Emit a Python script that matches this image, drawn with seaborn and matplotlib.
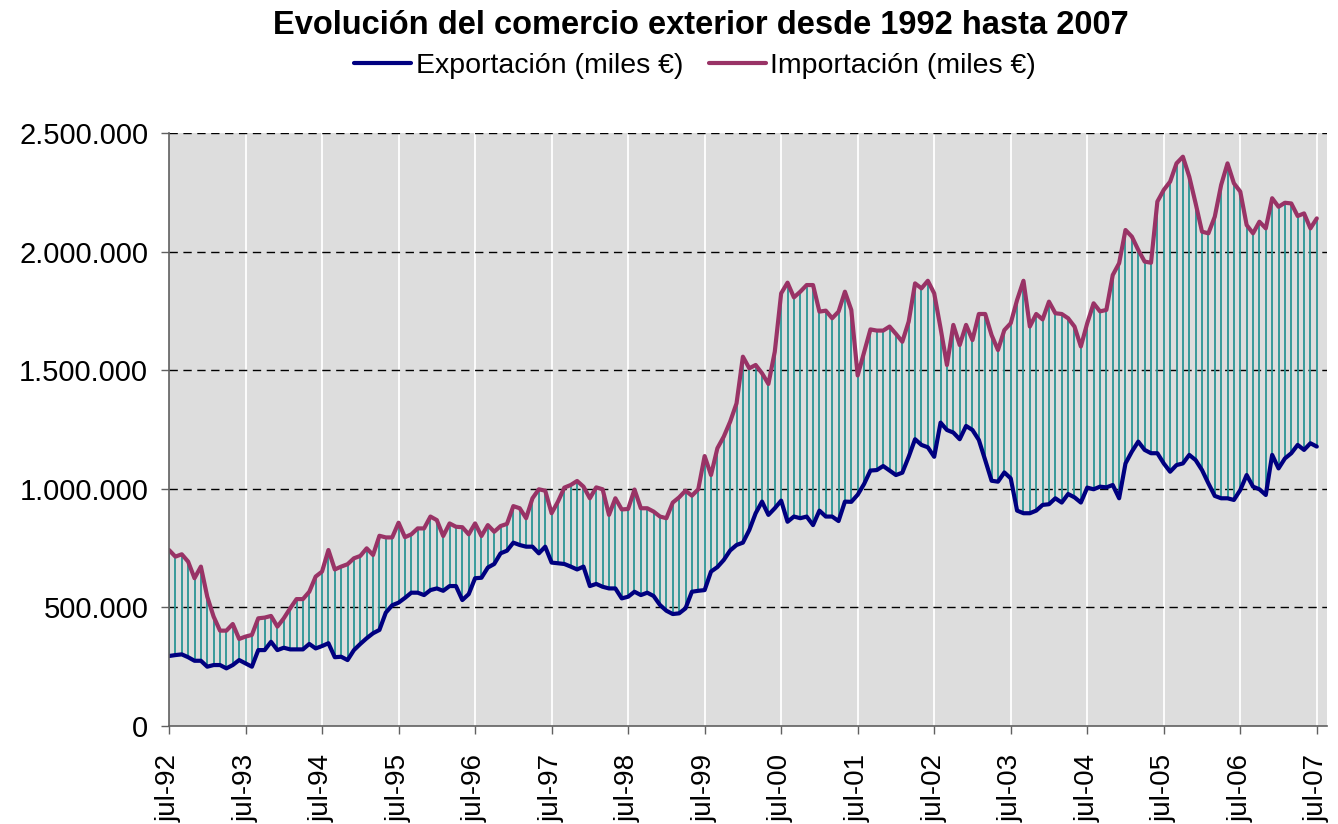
import numpy as np
import pandas as pd
import matplotlib
matplotlib.use("Agg")
import matplotlib.pyplot as plt
from matplotlib.ticker import FuncFormatter, MultipleLocator
import seaborn as sns

# ---------------- data (millions of "miles €"), monthly jul-92 .. jul-07 ----------------
importacion = [
    0.742, 0.714, 0.724, 0.693, 0.623, 0.672, 0.545, 0.461, 0.402, 0.402,
    0.430, 0.367, 0.377, 0.384, 0.454, 0.457, 0.464, 0.419, 0.454, 0.496,
    0.535, 0.535, 0.566, 0.630, 0.651, 0.742, 0.660, 0.672, 0.682, 0.707,
    0.717, 0.749, 0.721, 0.802, 0.795, 0.795, 0.857, 0.796, 0.808, 0.833,
    0.833, 0.883, 0.868, 0.801, 0.854, 0.840, 0.838, 0.808, 0.854, 0.801,
    0.847, 0.819, 0.843, 0.852, 0.927, 0.918, 0.876, 0.960, 0.998, 0.992,
    0.897, 0.946, 1.005, 1.016, 1.033, 1.009, 0.960, 1.006, 0.998, 0.890,
    0.960, 0.913, 0.915, 0.997, 0.918, 0.918, 0.904, 0.883, 0.876, 0.942,
    0.964, 0.992, 0.971, 0.998, 1.138, 1.058, 1.171, 1.220, 1.283, 1.360,
    1.557, 1.508, 1.522, 1.487, 1.442, 1.578, 1.824, 1.869, 1.807, 1.831,
    1.859, 1.859, 1.747, 1.751, 1.719, 1.747, 1.831, 1.754, 1.478, 1.575,
    1.672, 1.667, 1.667, 1.684, 1.653, 1.620, 1.705, 1.866, 1.845, 1.877,
    1.824, 1.677, 1.522, 1.691, 1.606, 1.691, 1.627, 1.737, 1.737, 1.648,
    1.585, 1.669, 1.698, 1.796, 1.877, 1.684, 1.737, 1.714, 1.789, 1.740,
    1.737, 1.719, 1.684, 1.600, 1.698, 1.782, 1.748, 1.754, 1.901, 1.951,
    2.091, 2.063, 2.007, 1.958, 1.953, 2.211, 2.260, 2.295, 2.372, 2.400,
    2.316, 2.203, 2.084, 2.077, 2.147, 2.281, 2.372, 2.288, 2.253, 2.112,
    2.077, 2.126, 2.098, 2.225, 2.189, 2.206, 2.203, 2.150, 2.161, 2.098,
    2.140,
]
exportacion = [
    0.295, 0.299, 0.302, 0.290, 0.275, 0.275, 0.250, 0.257, 0.257, 0.243,
    0.257, 0.278, 0.264, 0.250, 0.320, 0.320, 0.355, 0.320, 0.330, 0.323,
    0.323, 0.323, 0.346, 0.327, 0.337, 0.349, 0.290, 0.292, 0.278, 0.320,
    0.346, 0.370, 0.391, 0.405, 0.478, 0.509, 0.520, 0.540, 0.562, 0.562,
    0.552, 0.573, 0.580, 0.570, 0.590, 0.590, 0.531, 0.556, 0.623, 0.625,
    0.668, 0.683, 0.728, 0.739, 0.773, 0.763, 0.756, 0.756, 0.728, 0.756,
    0.689, 0.686, 0.683, 0.672, 0.660, 0.672, 0.590, 0.599, 0.587, 0.580,
    0.580, 0.538, 0.545, 0.566, 0.552, 0.562, 0.548, 0.510, 0.486, 0.472,
    0.475, 0.496, 0.566, 0.570, 0.573, 0.651, 0.670, 0.700, 0.740, 0.763,
    0.773, 0.826, 0.897, 0.946, 0.890, 0.918, 0.950, 0.861, 0.883, 0.876,
    0.883, 0.847, 0.908, 0.883, 0.883, 0.864, 0.946, 0.945, 0.975, 1.020,
    1.077, 1.079, 1.096, 1.077, 1.058, 1.068, 1.135, 1.209, 1.185, 1.175,
    1.135, 1.279, 1.248, 1.237, 1.209, 1.265, 1.248, 1.206, 1.121, 1.034,
    1.030, 1.069, 1.044, 0.908, 0.897, 0.897, 0.908, 0.932, 0.935, 0.960,
    0.942, 0.978, 0.964, 0.942, 1.005, 0.998, 1.009, 1.006, 1.016, 0.960,
    1.107, 1.157, 1.199, 1.164, 1.150, 1.150, 1.107, 1.072, 1.100, 1.107,
    1.143, 1.121, 1.079, 1.023, 0.970, 0.960, 0.960, 0.953, 0.995, 1.058,
    1.009, 0.998, 0.974, 1.143, 1.086, 1.128, 1.150, 1.185, 1.164, 1.192,
    1.178,
]
tick_labels = ["jul-92", "jul-93", "jul-94", "jul-95", "jul-96", "jul-97", "jul-98",
               "jul-99", "jul-00", "jul-01", "jul-02", "jul-03", "jul-04", "jul-05",
               "jul-06", "jul-07"]
serie_exp = "Exportación (miles €)"
serie_imp = "Importación (miles €)"
titulo = "Evolución del comercio exterior desde 1992 hasta 2007"

# ---------------- build table ----------------
mes = np.arange(len(importacion))
exp_v = np.array(exportacion) * 1e6
imp_v = np.array(importacion) * 1e6
df = pd.concat([
    pd.DataFrame({"mes": mes, "valor": exp_v, "serie": serie_exp}),
    pd.DataFrame({"mes": mes, "valor": imp_v, "serie": serie_imp}),
])

sns.set_theme(style="white")
plt.rcParams["font.family"] = ["Liberation Sans", "DejaVu Sans"]
plt.rcParams["text.color"] = "black"
plt.rcParams["xtick.color"] = "black"
plt.rcParams["ytick.color"] = "black"
plt.rcParams["axes.labelcolor"] = "black"

fig = plt.figure(figsize=(13.38, 8.24), dpi=100)
ax = fig.add_axes([169 / 1338, 1 - 726 / 824, (1327 - 169) / 1338, (726 - 133) / 824])
ax.set_facecolor("#dddddd")

# high-low lines
ax.vlines(mes, exp_v, imp_v, colors="#2a9494", linewidth=1.3, zorder=2)

sns.lineplot(data=df, x="mes", y="valor", hue="serie", ax=ax,
             palette={serie_exp: "#000080", serie_imp: "#993366"},
             linewidth=3.0, zorder=3, legend=True)

ax.set_xlim(0, 181.6)
ax.set_ylim(0, 2500000)
ax.set_xticks(np.arange(0, 181, 12))
ax.set_xticklabels(tick_labels, rotation=90, fontsize=20)
ax.yaxis.set_major_locator(MultipleLocator(500000))
ax.yaxis.set_major_formatter(FuncFormatter(lambda v, p: f"{int(round(v)):,}".replace(",", ".")))
ax.tick_params(axis="y", labelsize=21, length=6, width=1, color="#606060",
               labelcolor="black", pad=9, left=True)
ax.tick_params(axis="x", length=6, width=1, color="#606060", labelcolor="black",
               pad=14, bottom=True)
ax.set_xlabel("")
ax.set_ylabel("")

# grids
ax.grid(False)
for x in np.arange(12, 181, 12):
    ax.axvline(x, color="white", linewidth=1.3, zorder=1)
for y in np.arange(500000, 2500001, 500000):
    ax.axhline(y, color="black", linewidth=1.0, linestyle=(0, (6, 4)), zorder=1.5)

for s in ["top", "right"]:
    ax.spines[s].set_visible(False)
for s in ["left", "bottom"]:
    ax.spines[s].set_color("#606060")
    ax.spines[s].set_linewidth(1.2)
    ax.spines[s].set_zorder(4)

# legend
handles, labels = ax.get_legend_handles_labels()
ax.legend_.remove()
fig.legend(handles, labels, loc="center", bbox_to_anchor=(695 / 1338, 1 - 66 / 824),
           ncol=2, frameon=False, fontsize=20.5, handlelength=2.0, handletextpad=0.15,
           columnspacing=0.9, labelcolor="black")

fig.text(701 / 1338, 1 - 25 / 824, titulo, ha="center", va="center",
         fontsize=23.5, fontweight="bold", color="black")

fig.savefig("out.png", dpi=100)
